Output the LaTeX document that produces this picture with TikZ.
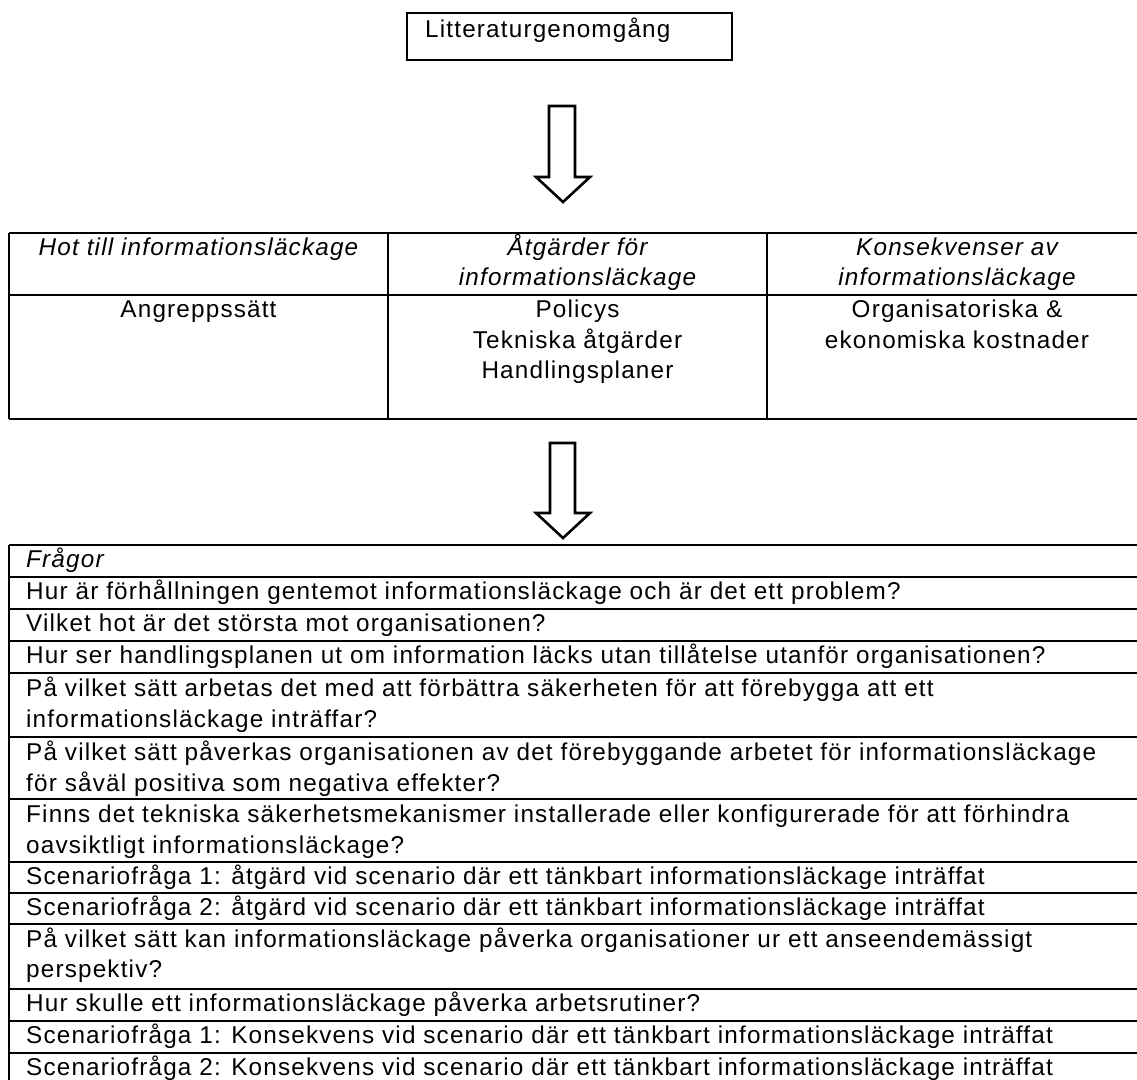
\documentclass[tikz,border=0pt]{standalone}
\usepackage{fontspec}
\setmainfont{Liberation Sans}[LetterSpace=4.8]
\newcommand{\qfont}{\fontsize{24.3}{31}\selectfont}
\begin{document}
\begin{tikzpicture}[x=1pt,y=-1pt]
\tikzset{
  rule/.style={line width=1.6pt, draw=black},
  framebox/.style={line width=2.2pt, draw=black},
  txt/.style={anchor=base west, inner sep=0pt, font=\qfont},
  ctxt/.style={anchor=base, inner sep=0pt, font=\qfont},
  hdr/.style={anchor=base, inner sep=0pt, font=\qfont\itshape},
  blockarrow/.style={draw=black, line width=2.6pt, fill=white, line join=miter},
}
\useasboundingbox (0,0) rectangle (1137,1079);
\clip (0,0) rectangle (1137,1079);

% top box
\draw[framebox] (407,13) rectangle (732,60);
\node[txt] (lit) at (425,37) {Litteraturgenomgång};

% arrow 1
\coordinate (a1) at (562,106);
\draw[blockarrow] ([xshift=-13pt]a1) -- ([xshift=13pt]a1) -- ([xshift=13pt,yshift=-71pt]a1)
  -- ([xshift=28pt,yshift=-71pt]a1) -- ([xshift=1pt,yshift=-96pt]a1)
  -- ([xshift=-26pt,yshift=-71pt]a1) -- ([xshift=-13pt,yshift=-71pt]a1) -- cycle;

% top table
\draw[rule] (9,233) -- (1150,233);
\draw[rule] (9,295) -- (1150,295);
\draw[rule] (9,419) -- (1150,419);
\draw[rule] (9,233) -- (9,419);
\draw[rule] (388,233) -- (388,419);
\draw[rule] (767,233) -- (767,419);
\draw[rule] (1147,233) -- (1147,419);

\node[hdr] (h1) at (198.5,255) {Hot till informationsläckage};
\node[hdr] (h2a) at (577.5,255) {Åtgärder för};
\node[hdr] (h2b) at (577.5,285) {informationsläckage};
\node[hdr] (h3a) at (957,255) {Konsekvenser av};
\node[hdr] (h3b) at (957,285) {informationsläckage};

\node[ctxt] (c1) at (198.5,317) {Angreppssätt};
\node[ctxt] (c2a) at (577.5,317) {Policys};
\node[ctxt] (c2b) at (577.5,348) {Tekniska åtgärder};
\node[ctxt] (c2c) at (577.5,378) {Handlingsplaner};
\node[ctxt] (c3a) at (957,317) {Organisatoriska \&};
\node[ctxt] (c3b) at (957,348) {ekonomiska kostnader};

% arrow 2
\coordinate (a2) at (562.5,443);
\draw[blockarrow] ([xshift=-12.5pt]a2) -- ([xshift=12.5pt]a2) -- ([xshift=12.5pt,yshift=-70pt]a2)
  -- ([xshift=27.5pt,yshift=-70pt]a2) -- ([xshift=0.5pt,yshift=-95pt]a2)
  -- ([xshift=-26.5pt,yshift=-70pt]a2) -- ([xshift=-12.5pt,yshift=-70pt]a2) -- cycle;

% bottom table
\foreach \y in {545,577,609,641,673,737,799,862,893,924,989,1021,1053,1085}
  \draw[rule] (9,\y) -- (1150,\y);
\draw[rule] (9,545) -- (9,1085);

\node[txt, font=\qfont\itshape] (q0) at (26,567.5) {Frågor};
\node[txt] (q1) at (26,599.5) {Hur är förhållningen gentemot informationsläckage och är det ett problem?};
\node[txt] (q2) at (26,631.5) {Vilket hot är det största mot organisationen?};
\node[txt] (q3) at (26,663.5) {Hur ser handlingsplanen ut om information läcks utan tillåtelse utanför organisationen?};
\node[txt] (q4a) at (26,696) {På vilket sätt arbetas det med att förbättra säkerheten för att förebygga att ett};
\node[txt] (q4b) at (26,727) {informationsläckage inträffar?};
\node[txt] (q5a) at (26,760) {På vilket sätt påverkas organisationen av det förebyggande arbetet för informationsläckage};
\node[txt] (q5b) at (26,791) {för såväl positiva som negativa effekter?};
\node[txt] (q6a) at (26,822) {Finns det tekniska säkerhetsmekanismer installerade eller konfigurerade för att förhindra};
\node[txt] (q6b) at (26,853) {oavsiktligt informationsläckage?};
\node[txt] (q7) at (26,884) {Scenariofråga 1: åtgärd vid scenario där ett tänkbart informationsläckage inträffat};
\node[txt] (q8) at (26,915) {Scenariofråga 2: åtgärd vid scenario där ett tänkbart informationsläckage inträffat};
\node[txt] (q9a) at (26,947) {På vilket sätt kan informationsläckage påverka organisationer ur ett anseendemässigt};
\node[txt] (q9b) at (26,977.5) {perspektiv?};
\node[txt] (q10) at (26,1011) {Hur skulle ett informationsläckage påverka arbetsrutiner?};
\node[txt] (q11) at (26,1043) {Scenariofråga 1: Konsekvens vid scenario där ett tänkbart informationsläckage inträffat};
\node[txt] (q12) at (26,1075) {Scenariofråga 2: Konsekvens vid scenario där ett tänkbart informationsläckage inträffat};
\end{tikzpicture}
\end{document}
